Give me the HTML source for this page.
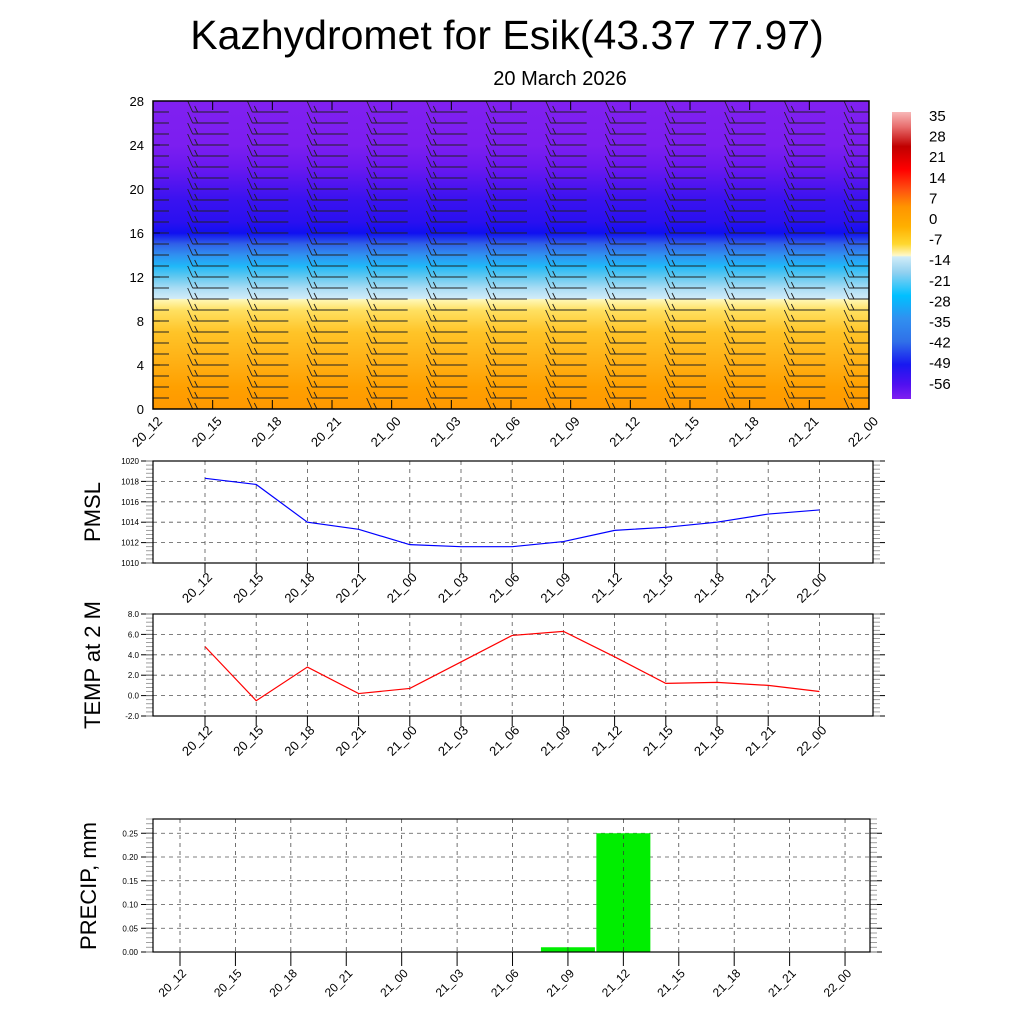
<!DOCTYPE html>
<html><head><meta charset="utf-8"><style>
body{margin:0;background:#fff;}
svg{display:block;font-family:"Liberation Sans",sans-serif;}
</style></head><body>
<svg id="root" width="1024" height="1024" viewBox="0 0 1024 1024">
<defs>
<linearGradient id="tg" gradientUnits="userSpaceOnUse" x1="0" y1="409" x2="0" y2="101">
<stop offset="0" stop-color="#ff9800"/><stop offset="0.07" stop-color="#ffa000"/>
<stop offset="0.143" stop-color="#ffae12"/><stop offset="0.25" stop-color="#ffc428"/>
<stop offset="0.32" stop-color="#ffe060"/><stop offset="0.356" stop-color="#fff8b8"/>
<stop offset="0.358" stop-color="#d2ecf8"/><stop offset="0.393" stop-color="#a8dcf4"/>
<stop offset="0.43" stop-color="#60c8f0"/><stop offset="0.464" stop-color="#20b8f8"/>
<stop offset="0.5" stop-color="#3090f0"/><stop offset="0.536" stop-color="#3060e8"/>
<stop offset="0.571" stop-color="#1010f0"/><stop offset="0.607" stop-color="#2a10f0"/>
<stop offset="0.68" stop-color="#3a12f0"/><stop offset="0.786" stop-color="#6a18f0"/>
<stop offset="0.857" stop-color="#7c1ef0"/><stop offset="1" stop-color="#8020f0"/>
</linearGradient>
<linearGradient id="cbg" x1="0" y1="0" x2="0" y2="1">
<stop offset="0" stop-color="#f8b8b8"/><stop offset="0.05" stop-color="#e87070"/>
<stop offset="0.12" stop-color="#c00000"/><stop offset="0.2" stop-color="#ff0000"/>
<stop offset="0.27" stop-color="#ff5010"/><stop offset="0.33" stop-color="#ff9400"/>
<stop offset="0.4" stop-color="#ffb000"/><stop offset="0.46" stop-color="#ffd830"/>
<stop offset="0.5" stop-color="#fff8c8"/><stop offset="0.505" stop-color="#d0ecf8"/>
<stop offset="0.56" stop-color="#90d0f0"/><stop offset="0.64" stop-color="#00c0ff"/>
<stop offset="0.72" stop-color="#3090f0"/><stop offset="0.8" stop-color="#3070e8"/>
<stop offset="0.88" stop-color="#1818f0"/><stop offset="0.95" stop-color="#5010f0"/>
<stop offset="1" stop-color="#8020f0"/>
</linearGradient>
<clipPath id="tc"><rect x="153" y="101" width="716" height="308"/></clipPath>
</defs>
<text x="507" y="49" font-size="41" text-anchor="middle">Kazhydromet for Esik(43.37 77.97)</text>
<text x="560" y="85" font-size="20" text-anchor="middle">20 March 2026</text>
<text transform="translate(100,512) rotate(-90)" font-size="22" text-anchor="middle">PMSL</text>
<text transform="translate(100,665) rotate(-90)" font-size="22" text-anchor="middle">TEMP at 2 M</text>
<text transform="translate(96,886) rotate(-90)" font-size="22" text-anchor="middle">PRECIP, mm</text>
</svg>
<script>
const times=["20_12","20_15","20_18","20_21","21_00","21_03","21_06","21_09","21_12","21_15","21_18","21_21","22_00"];
const pmsl=[1018.3,1017.7,1014.0,1013.3,1011.8,1011.6,1011.6,1012.1,1013.2,1013.5,1014.0,1014.8,1015.2];
const temp=[4.8,-0.5,2.8,0.2,0.7,3.3,5.9,6.3,3.8,1.2,1.3,1.0,0.4];
const precip=[0,0,0,0,0,0,0,0.01,0.25,0,0,0,0];
const heightTicks=[0,4,8,12,16,20,24,28];
const pmslTicks=[1010,1012,1014,1016,1018,1020];
const tempTicks=["-2.0","0.0","2.0","4.0","6.0","8.0"];
const precipTicks=["0.00","0.05","0.10","0.15","0.20","0.25"];
const cbLabels=["35","28","21","14","7","0","-7","-14","-21","-28","-35","-42","-49","-56"];
const barbLevels=[0,1,2,3,4,5,6,7,8,9,10,11,12,13,14,15,16,17,18,19,20,21,22,23,24,25,26,27,28];

const NS="http://www.w3.org/2000/svg";
const root=document.getElementById('root');
function mk(tag,attrs,parent){const e=document.createElementNS(NS,tag);for(const k in attrs)e.setAttribute(k,attrs[k]);(parent||root).appendChild(e);return e;}

/* ---------- top cross-section ---------- */
const tg=mk('g',{});


const tx=i=>153+i*716/12, ty=h=>409-h*308/28;
const field=mk('rect',{x:153,y:101,width:716,height:308,fill:'url(#tg)'},tg);


const bg=mk('g',{'clip-path':'url(#tc)',stroke:'#222','stroke-width':'0.9',fill:'none'},tg);


times.forEach((t,i)=>{barbLevels.forEach(h=>{
  const x=tx(i), y=ty(h);
  const p=mk('path',{d:`M${x-20},${y}H${x+16}M${x-20},${y}l-5,-11M${x-15},${y}l-3,-6`},bg);
  
  
});});
mk('rect',{x:153,y:101,width:716,height:308,fill:'none',stroke:'#000','stroke-width':'1.5'},tg);
times.forEach((s,i)=>{
  mk('line',{x1:tx(i),x2:tx(i),y1:101,y2:110,stroke:'#000'},tg);
  mk('line',{x1:tx(i),x2:tx(i),y1:400,y2:409,stroke:'#000'},tg);
});
heightTicks.forEach(v=>{
  mk('line',{x1:153,x2:160,y1:ty(v),y2:ty(v),stroke:'#000'},tg);
  const t=mk('text',{x:144,y:ty(v)+5,'font-size':13,'text-anchor':'end'},tg);t.textContent=v;
  
  
});
times.forEach((s,i)=>{
  const t=mk('text',{transform:`translate(${tx(i)+10},${422}) rotate(-45)`,'font-size':13,'text-anchor':'end'},tg);t.textContent=s;
  
  
});
/* colorbar */
const cb=mk('rect',{x:892,y:112,width:19,height:287,fill:'url(#cbg)'});


cbLabels.forEach((s,i)=>{
  const t=mk('text',{x:929,y:121+i*20.6,'font-size':15},root);t.textContent=s;
  
  
});

/* ---------- line panels ---------- */
function panel(name,top,bot,ymin,ymax,vals,ticks,color){
  const g=mk('g',{});
  
  
  const L=153,R=873, x=i=>205+i*51.2, y=v=>bot-(v-ymin)/(ymax-ymin)*(bot-top);
  ticks.forEach(s=>{const v=parseFloat(s);
    mk('line',{x1:L,x2:R,y1:y(v),y2:y(v),stroke:'#555','stroke-dasharray':'4,4','stroke-width':'0.8'},g);
    mk('line',{x1:L-12,x2:L,y1:y(v),y2:y(v),stroke:'#000'},g);
    mk('line',{x1:R,x2:R+12,y1:y(v),y2:y(v),stroke:'#000'},g);
    const t=mk('text',{x:L-14,y:y(v)+3,'font-size':8,'text-anchor':'end'},g);t.textContent=s;
    
    
  });
  for(let k=0;k<=25;k++){const yy=top+k*(bot-top)/25;
    mk('line',{x1:L-7,x2:L,y1:yy,y2:yy,stroke:'#888','stroke-width':'0.8'},g);
    mk('line',{x1:R,x2:R+7,y1:yy,y2:yy,stroke:'#888','stroke-width':'0.8'},g);}
  times.forEach((s,i)=>{
    mk('line',{x1:x(i),x2:x(i),y1:top,y2:bot,stroke:'#555','stroke-dasharray':'4,4','stroke-width':'0.8'},g);
    mk('line',{x1:x(i),x2:x(i),y1:bot,y2:bot+10,stroke:'#000'},g);
    const t=mk('text',{transform:`translate(${x(i)+8},${bot+15}) rotate(-45)`,'font-size':13,'text-anchor':'end'},g);t.textContent=s;
    
    
  });
  mk('rect',{x:L,y:top,width:R-L,height:bot-top,fill:'none',stroke:'#000','stroke-width':'1.2'},g);
  const ln=mk('polyline',{points:vals.map((v,i)=>x(i)+','+y(v)).join(' '),fill:'none',stroke:color,'stroke-width':'1.2'},g);
  
  
}
panel('pmsl',461,563,1010,1020,pmsl,pmslTicks.map(String),'#0000ff');
panel('temp',614,716,-2,8,temp,tempTicks,'#ff0000');

/* ---------- precip panel ---------- */
(function(){
  const g=mk('g',{});
  
  
  const L=153,R=870,top=819,bot=952, x=i=>180+i*55.42, y=v=>bot-v/0.28*(bot-top);
  precipTicks.forEach(s=>{const v=parseFloat(s);
    mk('line',{x1:L,x2:R,y1:y(v),y2:y(v),stroke:'#555','stroke-dasharray':'4,4','stroke-width':'0.8'},g);
    mk('line',{x1:L-12,x2:L,y1:y(v),y2:y(v),stroke:'#000'},g);
    mk('line',{x1:R,x2:R+12,y1:y(v),y2:y(v),stroke:'#000'},g);
    const t=mk('text',{x:L-15,y:y(v)+3,'font-size':8,'text-anchor':'end'},g);t.textContent=s;
    
    
  });
  for(let k=0;k<=28;k++){const yy=top+k*(bot-top)/28;
    mk('line',{x1:L-7,x2:L,y1:yy,y2:yy,stroke:'#888','stroke-width':'0.8'},g);
    mk('line',{x1:R,x2:R+7,y1:yy,y2:yy,stroke:'#888','stroke-width':'0.8'},g);}
  precip.forEach((v,i)=>{ if(v<=0)return;
    const b=mk('rect',{x:x(i)-27,y:y(v),width:54,height:bot-y(v),fill:'#00ee00'},g);
    
    
  });
  times.forEach((s,i)=>{
    mk('line',{x1:x(i),x2:x(i),y1:top,y2:bot,stroke:'#333','stroke-dasharray':'4,4','stroke-width':'0.7'},g);
    mk('line',{x1:x(i),x2:x(i),y1:bot,y2:bot+14,stroke:'#000'},g);
    const t=mk('text',{transform:`translate(${x(i)+7},${bot+22}) rotate(-45)`,'font-size':12,'text-anchor':'end'},g);t.textContent=s;
    
    
  });
  mk('rect',{x:L,y:top,width:R-L,height:bot-top,fill:'none',stroke:'#000','stroke-width':'1.2'},g);
})();
</script>
</body></html>
